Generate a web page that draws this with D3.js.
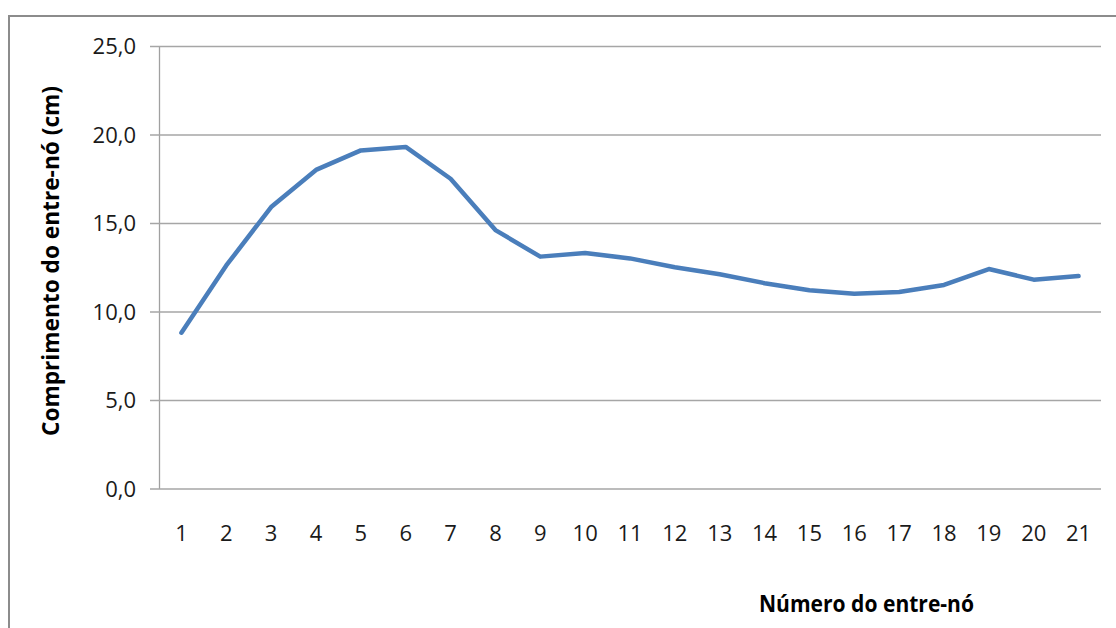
<!DOCTYPE html>
<html><head><meta charset="utf-8">
<script src="https://cdn.jsdelivr.net/npm/d3@7"></script>
<style>html,body{margin:0;padding:0;background:#fff;}</style>
</head><body>
<svg id="c" width="1116" height="628"></svg>
<script>
const categories = ["1","2","3","4","5","6","7","8","9","10","11","12","13","14","15","16","17","18","19","20","21"];
const values = [8.8,12.6,15.9,18.0,19.1,19.3,17.5,14.6,13.1,13.3,13.0,12.5,12.1,11.6,11.2,11.0,11.1,11.5,12.4,11.8,12.0];
const yTicks = [0,5,10,15,20,25];
const yTitle = "Comprimento do entre-nó (cm)";
const xTitle = "Número do entre-nó";

const svg = d3.select("#c");
const font = "'Open Sans', sans-serif";

// outer chart border (top and left visible)
svg.append("path").attr("d","M9,628 L9,16 L1116,16")
  .attr("fill","none").attr("stroke","#8c8c8c").attr("stroke-width",2);

const pL=159, pR=1101, pT=46, pB=488.5;
const x = d3.scaleBand().domain(categories).range([pL,pR]);
const y = d3.scaleLinear().domain([0,25]).range([pB,pT]);

// gridlines + y axis
const yAxis = d3.axisLeft(y).tickValues(yTicks).tickSize(-(pR-pL)).tickSizeOuter(0)
  .tickFormat(d => d3.format(".1f")(d).replace(".",","));
const gy = svg.append("g").attr("transform",`translate(${pL},0)`).call(yAxis);
gy.select(".domain").attr("stroke","#a0a0a0").attr("stroke-width",1.3);
gy.selectAll(".tick line").attr("stroke","#a6a6a6").attr("stroke-width",1.3).attr("x1",-9);
gy.selectAll(".tick text").attr("x",-23).attr("font-family",font).attr("font-size",22).attr("fill","#1a1a1a").attr("dy","0.35em");

// x axis labels
const xAxis = d3.axisBottom(x).tickSize(0).tickSizeOuter(0);
const gx = svg.append("g").attr("transform",`translate(0,${pB})`).call(xAxis);
gx.select(".domain").remove();
gx.selectAll(".tick text").attr("y",52).attr("dy","0").attr("font-family",font).attr("font-size",22).attr("fill","#1a1a1a");

// line
const line = d3.line().x((d,i)=>x(categories[i])+x.bandwidth()/2).y(d=>y(d));
svg.append("path").datum(values).attr("d",line).attr("fill","none")
  .attr("stroke","#4a7ebb").attr("stroke-width",4.5).attr("stroke-linejoin","round").attr("stroke-linecap","round");

// titles
svg.append("text").attr("transform","translate(59,261) rotate(-90)").attr("text-anchor","middle")
  .attr("font-family",font).attr("font-weight","bold").attr("font-size",23)
  .attr("textLength",350).attr("lengthAdjust","spacingAndGlyphs").attr("fill","#000").text(yTitle);
svg.append("text").attr("x",866.5).attr("y",612).attr("text-anchor","middle")
  .attr("font-family",font).attr("font-weight","bold").attr("font-size",23)
  .attr("textLength",215).attr("lengthAdjust","spacingAndGlyphs").attr("fill","#000").text(xTitle);
</script>
</body></html>
